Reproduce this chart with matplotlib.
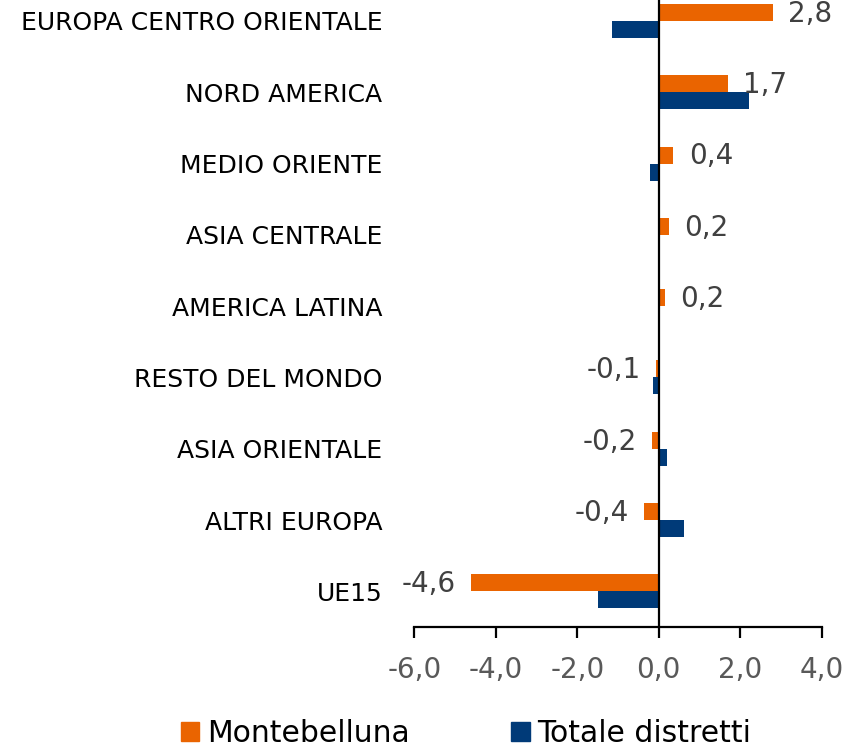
import matplotlib
matplotlib.use("Agg")
import matplotlib.pyplot as plt
from matplotlib.patches import Patch
import numpy as np

categories = ["EUROPA CENTRO ORIENTALE", "NORD AMERICA", "MEDIO ORIENTE",
              "ASIA CENTRALE", "AMERICA LATINA", "RESTO DEL MONDO",
              "ASIA ORIENTALE", "ALTRI EUROPA", "UE15"]
montebelluna = [2.8, 1.7, 0.36, 0.24, 0.16, -0.07, -0.17, -0.37, -4.6]
totale_distretti = [-1.15, 2.22, -0.21, 0.03, 0.0, -0.13, 0.2, 0.63, -1.5]
xticks = [-6, -4, -2, 0, 2, 4]
series_names = ["Montebelluna", "Totale distretti"]

orange = "#EA6400"
blue = "#003A78"

plt.rcParams['font.family'] = ['DejaVu Sans']

fig = plt.figure(figsize=(8.56, 7.49), dpi=100)
ax = fig.add_axes([414.3 / 856, 122 / 749, 407.4 / 856, 641.7 / 749])

n = len(categories)
y = np.arange(n)[::-1].astype(float)
h = 0.238

ax.barh(y + h / 2, montebelluna, height=h, color=orange, zorder=2)
ax.barh(y - h / 2, totale_distretti, height=h, color=blue, zorder=2)

for yi, v in zip(y, montebelluna):
    lab = f"{v:.1f}".replace(".", ",")
    if v >= 0:
        ax.annotate(lab, (v, yi + h / 2), xytext=(11, -1), textcoords="offset points",
                    ha="left", va="center", fontsize=20, color="#404040")
    else:
        ax.annotate(lab, (v, yi + h / 2), xytext=(-11, -1), textcoords="offset points",
                    ha="right", va="center", fontsize=20, color="#404040")

ax.axvline(0, color="black", linewidth=1.6, zorder=3)

ax.set_xlim(-6, 4)
ax.set_ylim(-0.5, n - 0.5)
ax.set_xticks(xticks)
ax.set_xticklabels([f"{t:.1f}".replace(".", ",") for t in xticks], fontsize=20, color="#595959")
ax.set_yticks(y)
ax.set_yticklabels(categories, fontsize=18, color="black")

for s in ["top", "right", "left"]:
    ax.spines[s].set_visible(False)
ax.spines["bottom"].set_linewidth(1.6)
ax.tick_params(axis="x", direction="out", length=8, width=1.6, pad=13)
ax.tick_params(axis="y", length=0, pad=23)

handles = [Patch(color=orange), Patch(color=blue)]
fig.legend(handles, series_names, loc="center", bbox_to_anchor=(466 / 856, 0.021),
           ncol=2, frameon=False, fontsize=21.5, handlelength=0.62, handleheight=0.62,
           handletextpad=0.25, columnspacing=3.4, borderpad=0.1)

fig.savefig("out.png", dpi=100)
